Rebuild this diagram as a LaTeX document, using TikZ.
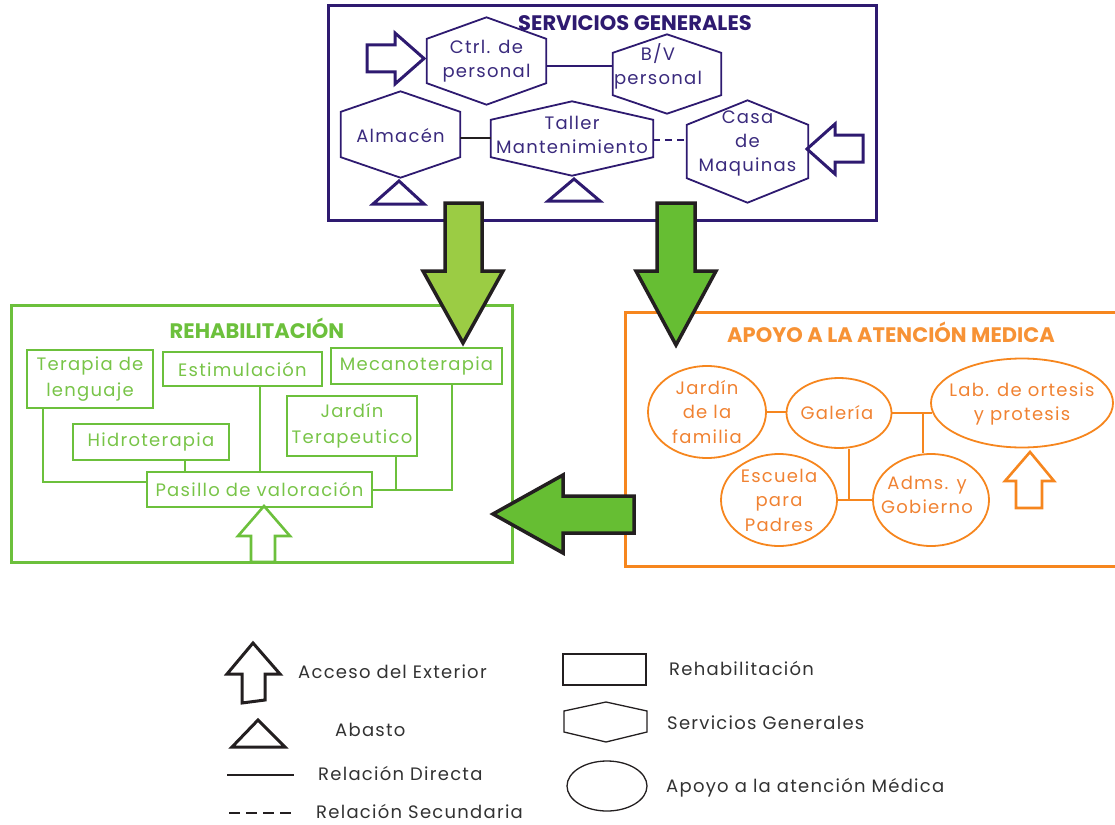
\documentclass[tikz,border=0pt]{standalone}
\usepackage{fontspec}
\setmainfont{Poppins}[LetterSpace=7]
\newfontfamily\titlefont{Poppins}
\usetikzlibrary{shapes.geometric}
\definecolor{sgpurple}{RGB}{46,26,112}
\definecolor{sgtext}{RGB}{58,42,125}
\definecolor{rgreen}{RGB}{108,192,60}
\definecolor{rtext}{RGB}{120,196,72}
\definecolor{lgreen}{RGB}{155,204,68}
\definecolor{dgreen}{RGB}{102,190,51}
\definecolor{aorange}{RGB}{246,134,30}
\definecolor{atext}{RGB}{240,130,50}
\definecolor{outl}{RGB}{35,31,32}
\definecolor{legtext}{RGB}{50,50,50}
\tikzset{
  frame/.style={line width=3pt, inner sep=0pt},
  titletext/.style={font=\titlefont\bfseries\fontsize{21}{24}\selectfont, inner sep=0pt},
  hexbox/.style={draw=none, inner sep=0pt},
  hexline/.style={draw=sgpurple, line width=1.8pt, line join=miter},
  hextext/.style={text=sgtext, align=center, inner sep=0pt, font=\fontsize{18}{24}\selectfont},
  sgline/.style={draw=sgpurple, line width=1.8pt},
  blkline/.style={draw=outl, line width=1.8pt},
  rbox/.style={draw=rgreen, line width=1.8pt, text=rtext, align=center, inner sep=0pt, font=\fontsize{18}{26}\selectfont},
  rline/.style={draw=rgreen, line width=2pt},
  oell/.style={ellipse, draw=aorange, line width=1.8pt, inner sep=0pt},
  otext/.style={text=atext, align=center, inner sep=0pt, font=\fontsize{18}{24.5}\selectfont},
  oline/.style={draw=aorange, line width=2pt},
  bigarrow/.style={draw=outl, line width=3.5pt, line join=miter},
  access/.style={line width=3pt, fill=white, line join=miter},
  abasto/.style={line width=3pt, line join=miter},
  legtxt/.style={text=legtext, anchor=west, inner sep=0pt, font=\fontsize{18}{22}\selectfont},
}
\begin{document}
\begin{tikzpicture}[x=1pt,y=-1pt]
\useasboundingbox (0,0) rectangle (1115,824);
\clip (0,0) rectangle (1115,824);

% ---------- frames ----------
\node[frame, draw=sgpurple, minimum width=548, minimum height=214] (sg) at (602,113) {};
\node[titletext, text=sgpurple] (sgt) at (635,23) {SERVICIOS GENERALES};

\node[frame, draw=rgreen, minimum width=501, minimum height=257] (reh) at (261.5,433.5) {};
\node[titletext, text=rgreen] (reht) at (257,328) {REHABILITACIÓN};

\node[frame, draw=aorange, minimum width=505, minimum height=254] (apo) at (877.5,439) {};
\node[titletext, text=aorange!90!white] (apot) at (891,332) {APOYO A LA ATENCIÓN MEDICA};

% ---------- Servicios generales ----------
\node[hexbox, minimum width=119, minimum height=44,
  label={[hextext]center:Ctrl. de\\personal}] (ctrl) at (486.5,61) {};
\draw[hexline] (ctrl.south west) -- (ctrl.north west) -- ([yshift=21.5]ctrl.north) -- (ctrl.north east) -- (ctrl.south east) -- ([yshift=-21.5]ctrl.south) -- cycle;

\node[hexbox, minimum width=108, minimum height=42,
  label={[hextext, yshift=7.5, xshift=-9]center:B/V\\personal}] (bv) at (667,74) {};
\draw[hexline] (bv.south west) -- (bv.north west) -- ([yshift=18.5]bv.north) -- (bv.north east) -- (bv.south east) -- ([yshift=-18.5]bv.south) -- cycle;

\node[hexbox, minimum width=119, minimum height=45,
  label={[hextext, yshift=-1.5]center:Almacén}] (alm) at (400.5,134.5) {};
\draw[hexline] (alm.south west) -- (alm.north west) -- ([yshift=20.5]alm.north) -- (alm.north east) -- (alm.south east) -- ([yshift=-20.5]alm.south) -- cycle;

\node[hexbox, minimum width=162, minimum height=37,
  label={[hextext, yshift=3.5]center:Taller\\Mantenimiento}] (tal) at (572,138.5) {};
\draw[hexline] (tal.south west) -- (tal.north west) -- ([yshift=18.5]tal.north) -- (tal.north east) -- (tal.south east) -- ([yshift=-18.5]tal.south) -- cycle;

\node[hexbox, minimum width=121, minimum height=53,
  label={[hextext, yshift=8.5]center:Casa\\de\\Maquinas}] (casa) at (747.5,151.5) {};
\draw[hexline] (casa.south west) -- (casa.north west) -- ([yshift=24.5]casa.north) -- (casa.north east) -- (casa.south east) -- ([yshift=-24.5]casa.south) -- cycle;

\coordinate (c1) at (560,66);
\coordinate (c2) at (470,138);
\coordinate (c3) at (670,140);
\draw[sgline] (ctrl.east |- c1) -- (bv.west |- c1);
\draw[blkline] (alm.east |- c2) -- (tal.west |- c2);
\draw[sgline, dash pattern=on 7pt off 5pt] (tal.east |- c3) -- (casa.west |- c3);

% access arrows and abasto
\draw[access, draw=sgpurple] (367,45) -- (395,45) -- (395,33) -- (424,58.5) -- (395,84) -- (395,72) -- (367,72) -- cycle;
\draw[access, draw=sgpurple] (863,135) -- (835,135) -- (835,124) -- (807,149) -- (835,174) -- (835,162) -- (863,162) -- cycle;
\draw[abasto, draw=sgpurple] (373,204) -- (399,181) -- (424,204) -- cycle;
\draw[abasto, draw=sgpurple] (548,201) -- (574,179) -- (600,201) -- cycle;

% ---------- Rehabilitacion ----------
\node[rbox, minimum width=126, minimum height=58] (ter) at (90,379) {Terapia de\\lenguaje};
\node[rbox, minimum width=159, minimum height=34] (est) at (242.5,369) {Estimulación};
\node[rbox, minimum width=171, minimum height=36] (mec) at (416.5,366) {Mecanoterapia};
\node[rbox, minimum width=130, minimum height=60] (jar) at (352,426) {Jardín\\Terapeutico};
\node[rbox, minimum width=156, minimum height=36] (hid) at (151,442) {Hidroterapia};
\node[rbox, minimum width=225, minimum height=35] (pas) at (259.5,489.5) {Pasillo de valoración};

\coordinate (r1) at (43,482);
\draw[rline] (ter.south -| r1) |- (pas.west |- r1);
\draw[rline] ([xshift=34]hid.south) -- ([xshift=34]hid.south |- pas.north);
\draw[rline] (pas.north) -- (pas.north |- est.south);
\draw[rline] ([xshift=35.5]mec.south) |- (pas.east);
\draw[rline] ([xshift=44]jar.south) -- ([xshift=44]jar.south |- pas.east);

\draw[access, draw=rgreen, line width=2.6pt] (251,562) -- (251,536) -- (238,536) -- (264,506) -- (290,536) -- (275,536) -- (275,562) -- cycle;

% ---------- Apoyo ----------
\node[oell, minimum width=118, minimum height=92, label={[otext]center:Jardín\\de la\\familia}] (jdf) at (707,412) {};
\node[oell, minimum width=105, minimum height=70, label={[otext, xshift=-2]center:Galería}] (gal) at (839,413) {};
\node[oell, minimum width=182, minimum height=89, label={[otext, yshift=-1]center:Lab. de ortesis\\y protesis}] (lab) at (1022,403) {};
\node[oell, minimum width=116, minimum height=92, label={[otext]center:Escuela\\para\\Padres}] (esc) at (779,500) {};
\node[oell, minimum width=116, minimum height=92, label={[otext, yshift=5, xshift=-4]center:Adms. y\\Gobierno}] (adm) at (931,500) {};

\coordinate (o1) at (923,413);
\coordinate (o2) at (849,500);
\draw[oline] (jdf.east) -- (jdf.east -| gal.west);
\draw[oline] (gal.east) -- ([xshift=2]lab.west |- gal.east);
\draw[oline] (o1) -- (o1 |- adm.north);
\draw[oline] (gal.south -| o2) -- (o2);
\draw[oline] (esc.east) -- (adm.west);

\draw[access, draw=aorange, line width=2.6pt] (1016,508) -- (1016,481) -- (1005,481) -- (1030,452) -- (1054,481) -- (1042,481) -- (1042,508) -- cycle;

% ---------- big green arrows ----------
\draw[bigarrow, fill=lgreen] (445,203) -- (482,203) -- (482,271) -- (503,271) -- (463,343) -- (423,271) -- (445,271) -- cycle;
\draw[bigarrow, fill=dgreen] (657,203) -- (695,203) -- (695,271) -- (716,271) -- (676,345) -- (636,271) -- (657,271) -- cycle;
\draw[bigarrow, fill=dgreen] (634,496) -- (563,496) -- (563,475) -- (493,514) -- (563,553) -- (563,533) -- (634,533) -- cycle;

% ---------- legend ----------
\draw[access, draw=outl] (242,703) -- (242,674) -- (227,674) -- (253,643) -- (280,674) -- (265,674) -- (265,700) -- cycle;
\node[legtxt] (l1) at (298,672) {Acceso del Exterior};
\draw[abasto, draw=outl] (232,747) -- (258,720) -- (285,747) -- cycle;
\node[legtxt] (l2) at (335,730) {Abasto};
\draw[outl, line width=1.5pt] (227,775) -- (294,775);
\node[legtxt] (l3) at (318,773) {Relación Directa};
\draw[outl, line width=1.5pt, dash pattern=on 11pt off 6pt] (229,813) -- (296,813);
\node[legtxt] (l4) at (316,811) {Relación Secundaria};

\draw[outl, line width=1.3pt] (563,654) rectangle (646,685);
\node[legtxt] (l5) at (669,668) {Rehabilitación};
\draw[outl, line width=1.3pt] (564,732) -- (564,711) -- (606,702) -- (647,711) -- (647,732) -- (606,742) -- cycle;
\node[legtxt] (l6) at (667,723) {Servicios Generales};
\draw[outl, line width=1.3pt] (607,786) ellipse [x radius=40, y radius=25];
\node[legtxt] (l7) at (666,788) {Apoyo a la atención Médica};
\end{tikzpicture}
\end{document}
